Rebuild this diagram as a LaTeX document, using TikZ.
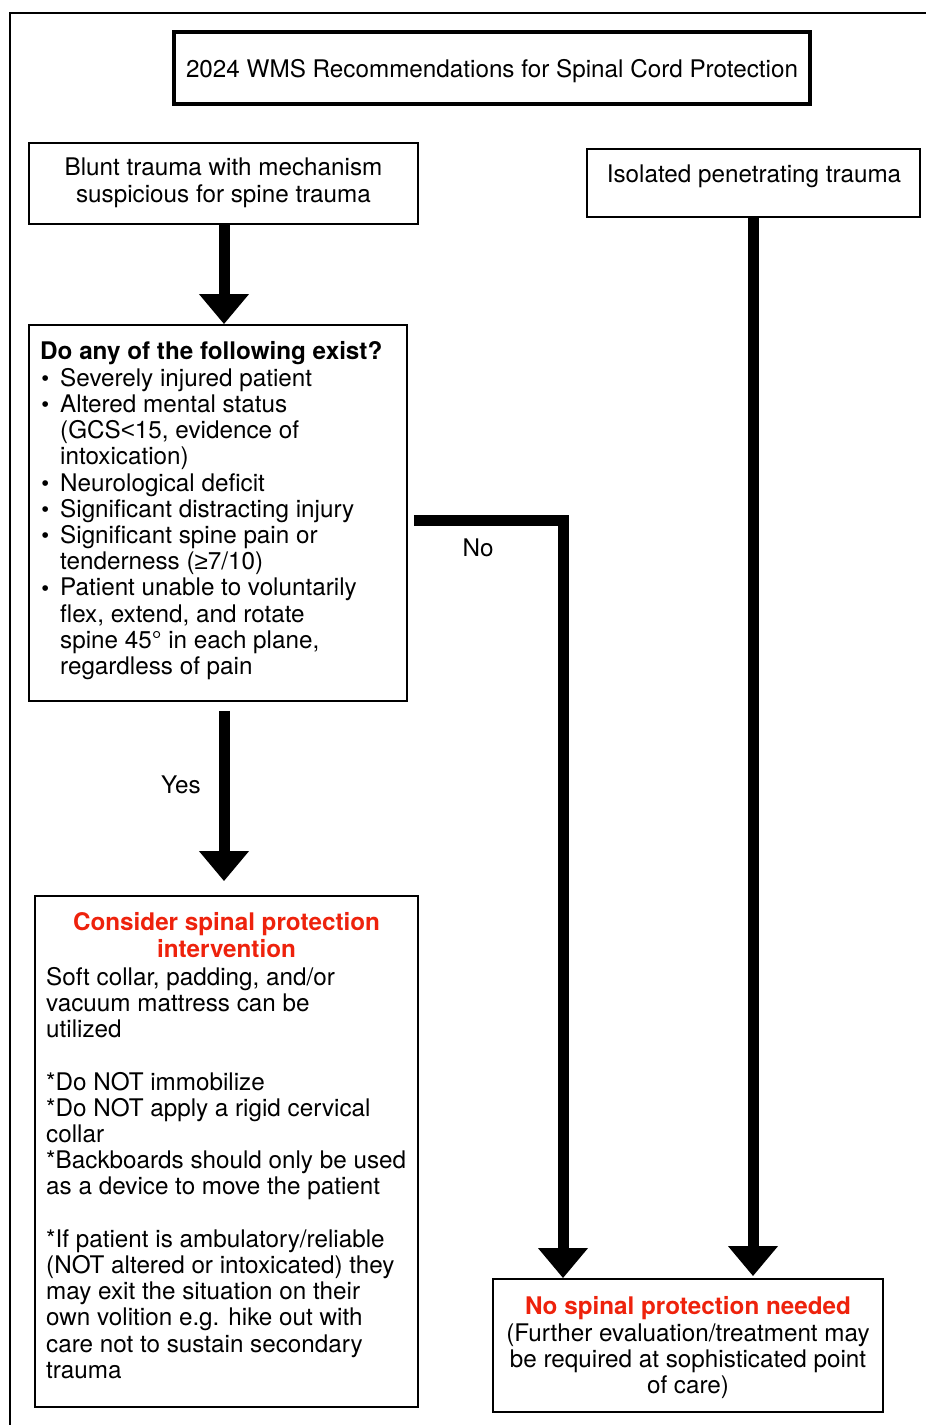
\documentclass[tikz,border=0pt]{standalone}
\usepackage{fontspec}
\setmainfont{TeX Gyre Heros}
\newfontfamily\symfnt{Liberation Sans}
\usetikzlibrary{arrows.meta,calc}
\definecolor{wmsred}{RGB}{238,34,12}
\newcommand{\qbul}{\makebox[20pt][l]{\hspace{1.5pt}\raisebox{0.5pt}{\symfnt\fontsize{21}{21}\selectfont •}}}
\newcommand{\qind}{\hspace*{20pt}}
\begin{document}
\begin{tikzpicture}[x=1pt,y=-1pt,
  box/.style={draw, line width=1.8pt, inner sep=0pt, fill=white},
  txt/.style={inner sep=0pt, font=\fontsize{24.25}{26.2}\selectfont},
  bigarrow/.style={line width=11pt, line join=miter, -{Triangle[width=48pt,length=30pt]}},
  lbl/.style={inner sep=0pt, font=\fontsize{24.25}{26.2}\selectfont, anchor=base}]
\useasboundingbox (0,0) rectangle (926,1425);
\fill[white] (0,0) rectangle (926,1425);
% outer frame (left and top edges)
\draw[line width=2pt, line join=miter] (926,13) -- (10,13) -- (10,1425);

% boxes
\node[box, line width=4.5pt, minimum width=636pt, minimum height=72pt] (title) at (492,68) {};
\node[box, minimum width=389pt, minimum height=81pt] (blunt) at (223.5,183.5) {};
\node[box, minimum width=333pt, minimum height=68pt] (iso) at (753.5,183) {};
\node[box, minimum width=378pt, minimum height=376pt] (q) at (218,513) {};
\node[box, minimum width=383pt, minimum height=511pt] (cons) at (226.5,1151.5) {};
\node[box, minimum width=390pt, minimum height=133pt] (nosp) at (688,1345.5) {};

% texts
\node[lbl] (titleT) at (492,77) {2024 WMS Recommendations for Spinal Cord Protection};
\node[txt, align=center, anchor=north] (bluntT) at (223.5,158) {Blunt trauma with mechanism\\suspicious for spine trauma};
\node[lbl] (isoT) at (754,182) {Isolated penetrating trauma};
\node[txt, align=left, anchor=north west] (qT) at (40,341) {%
  \textbf{Do any of the following exist?}\\[0.8pt]
  \qbul Severely injured patient\\
  \qbul Altered mental status\\
  \qind (GCS{\symfnt <}15, evidence of\\
  \qind intoxication)\\
  \qbul Neurological deficit\\
  \qbul Significant distracting injury\\
  \qbul Significant spine pain or\\
  \qind tenderness ({\symfnt ≥}7/10)\\
  \qbul Patient unable to voluntarily\\
  \qind flex, extend, and rotate\\
  \qind spine 45° in each plane,\\
  \qind regardless of pain};
\node[txt, align=center, anchor=north, text=wmsred, font=\fontsize{24.25}{27.5}\selectfont\bfseries] (consH) at (226.5,912) {Consider spinal protection\\intervention};
\node[txt, align=left, anchor=north west] (consT) at (46,967) {%
  Soft collar, padding, and/or\\
  vacuum mattress can be\\
  utilized\\[26.2pt]
  *Do NOT immobilize\\
  *Do NOT apply a rigid cervical\\
  collar\\
  *Backboards should only be used\\
  as a device to move the patient\\[26.2pt]
  *If patient is ambulatory/reliable\\
  (NOT altered or intoxicated) they\\
  may exit the situation on their\\
  own volition e.g. hike out with\\
  care not to sustain secondary\\
  trauma};
\node[txt, align=center, anchor=north] (nospT) at (688,1296) {%
  \textcolor{wmsred}{\bfseries No spinal protection needed}\\[0.8pt]
  (Further evaluation/treatment may\\
  be required at sophisticated point\\
  of care)};

% connectors
\draw[bigarrow] (blunt.south -| 224,0) -- (224,0 |- q.north);
\coordinate (noA) at ($(q.east)+(6,7)$);
\coordinate (noB) at (563,0 |- nosp.north);
\draw[bigarrow] (noA) -| (noB);
\draw[bigarrow, shorten >=2pt] (iso.south -| 753,0) -- (753,0 |- nosp.north);
\coordinate (yesA) at ($(q.south)+(6,9)$);
\coordinate (yesB) at ($(cons.north)+(-2.5,-14)$);
\draw[bigarrow] (yesA) -- (yesB);

\node[lbl] (noL) at (478,556) {No};
\node[lbl] (yesL) at (181,793) {Yes};
\end{tikzpicture}
\end{document}
